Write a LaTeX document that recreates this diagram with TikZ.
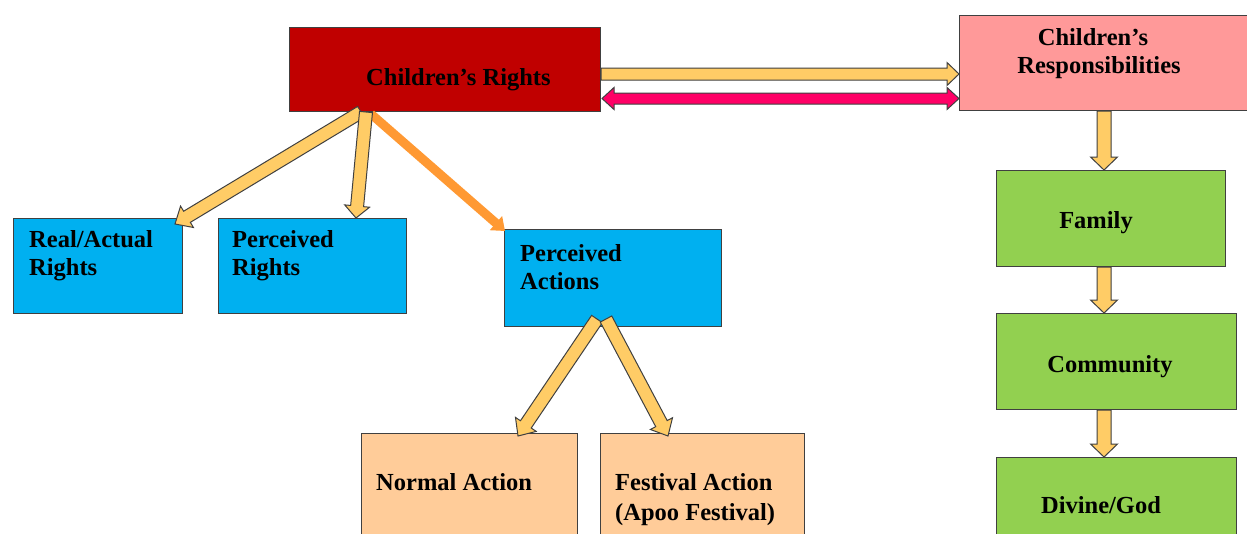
\documentclass[tikz,border=0pt]{standalone}
\usepackage{fontspec}
\setmainfont{Liberation Serif}
\usetikzlibrary{calc,arrows.meta}
\definecolor{crred}{HTML}{C00000}
\definecolor{resppink}{HTML}{FF9999}
\definecolor{blueb}{HTML}{00B0F0}
\definecolor{peach}{HTML}{FFCC99}
\definecolor{greenb}{HTML}{92D050}
\definecolor{arrowyellow}{HTML}{FFCC66}
\definecolor{orangeline}{HTML}{FF9933}
\definecolor{magentaarrow}{HTML}{FF0066}
\definecolor{boxline}{HTML}{404040}
\tikzset{
  box/.style={draw=boxline, line width=1pt, anchor=north west, inner sep=0pt},
  lbl/.style={font=\bfseries\fontsize{24.5}{28}\selectfont, text=black, inner sep=0pt},
  yarrow/.style={fill=arrowyellow, draw=boxline, line width=1pt, line join=miter},
  marrow/.style={fill=magentaarrow, draw=boxline, line width=1pt, line join=miter}
}
% #1 style, #2 from, #3 to, #4 shaft half width, #5 head half width, #6 head length
\newcommand\blkarrow[6]{%
  \coordinate (hb) at ($(#3)!#6!(#2)$);
  \filldraw[#1] ($(#2)!#4!90:(#3)$) -- ($(hb)!#4!90:(#3)$) -- ($(hb)!#5!90:(#3)$) -- (#3)
    -- ($(hb)!#5!-90:(#3)$) -- ($(hb)!#4!-90:(#3)$) -- ($(#2)!#4!-90:(#3)$) -- cycle;
}
\newcommand\dblkarrow[6]{%
  \coordinate (ha) at ($(#2)!#6!(#3)$);
  \coordinate (hb) at ($(#3)!#6!(#2)$);
  \filldraw[#1] ($(ha)!#4!90:(#3)$) -- ($(hb)!#4!90:(#3)$) -- ($(hb)!#5!90:(#3)$) -- (#3)
    -- ($(hb)!#5!-90:(#3)$) -- ($(hb)!#4!-90:(#3)$) -- ($(ha)!#4!-90:(#3)$)
    -- ($(ha)!#5!-90:(#3)$) -- (#2) -- ($(ha)!#5!90:(#3)$) -- cycle;
}
\begin{document}
\begin{tikzpicture}[x=1pt,y=-1pt]
\useasboundingbox (0,0) rectangle (1247,533);
\clip (0,0) rectangle (1247,533);
\fill[white] (0,0) rectangle (1247,533);
% boxes
\node[box,fill=crred,minimum width=311pt,minimum height=84pt] (cr) at (289,27) {};
\node[box,fill=resppink,minimum width=291pt,minimum height=95pt] (resp) at (959,15) {};
\node[box,fill=blueb,minimum width=169pt,minimum height=95pt] (rar) at (13,218) {};
\node[box,fill=blueb,minimum width=188pt,minimum height=95pt] (pr) at (218,218) {};
\node[box,fill=blueb,minimum width=217pt,minimum height=97pt] (pa) at (504,229) {};
\node[box,fill=peach,minimum width=216pt,minimum height=130pt] (na) at (361,433) {};
\node[box,fill=peach,minimum width=204pt,minimum height=130pt] (fa) at (600,433) {};
\node[box,fill=greenb,minimum width=229pt,minimum height=96pt] (fam) at (996,170) {};
\node[box,fill=greenb,minimum width=240pt,minimum height=96pt] (com) at (996,313) {};
\node[box,fill=greenb,minimum width=240pt,minimum height=110pt] (div) at (996,457) {};
% texts
\node[lbl,anchor=base west] (tcr) at ($(cr.north west)+(77,58)$) {Children’s Rights};
\node[lbl,anchor=north,align=center] (tresp) at ($(resp.north west)+(140,13)$) {\hspace*{-12pt}Children’s\\Responsibilities};
\node[lbl,anchor=north west,align=left] (trar) at ($(rar.north west)+(16,12)$) {Real/Actual\\Rights};
\node[lbl,anchor=north west,align=left] (tpr) at ($(pr.north west)+(14,12)$) {Perceived\\Rights};
\node[lbl,anchor=north west,align=left] (tpa) at ($(pa.north west)+(16,15)$) {Perceived\\Actions};
\node[lbl,anchor=base west] (tna) at ($(na.north west)+(15,57)$) {Normal Action};
\node[lbl,anchor=north west,align=left] (tfa) at ($(fa.north west)+(15,40)$) {Festival Action\\[2pt](Apoo Festival)};
\node[lbl,anchor=base] (tfam) at ($(fam.north west)+(100,58)$) {Family};
\node[lbl,anchor=base] (tcom) at ($(com.north west)+(114,59)$) {Community};
\node[lbl,anchor=base] (tdiv) at ($(div.north west)+(105,56)$) {Divine/God};
% connector coordinates
\coordinate (a1) at ($(cr.north east)+(0,47)$);
\coordinate (b1) at (a1 -| resp.west);
\coordinate (a2) at ($(cr.north east)+(1,71.5)$);
\coordinate (b2) at (a2 -| resp.west);
\coordinate (d1a) at ($(cr.south west)+(72,0)$);
\coordinate (d1b) at ($(rar.north east)+(-8,6)$);
\coordinate (d2a) at ($(cr.south west)+(77,0)$);
\coordinate (d2b) at ($(pr.north west)+(138,0)$);
\coordinate (oa) at ($(cr.south west)+(82,2)$);
\coordinate (ob) at ($(pa.north west)+(1,2)$);
\coordinate (d4a) at ($(pa.south west)+(93,-8)$);
\coordinate (d4b) at ($(na.north west)+(157,3)$);
\coordinate (d5a) at ($(pa.south west)+(102,-8)$);
\coordinate (d5b) at ($(fa.north west)+(68,3)$);
\coordinate (r1) at ($(resp.south west)+(145,0)$);
\coordinate (r2) at (r1 |- fam.north);
\coordinate (r3) at (r1 |- fam.south);
\coordinate (r4) at (r1 |- com.north);
\coordinate (r5) at (r1 |- com.south);
\coordinate (r6) at (r1 |- div.north);
% connectors
\draw[orangeline, line width=9pt, -{Triangle[width=18pt,length=12pt]}] (oa) -- (ob);
\blkarrow{yarrow}{d1a}{d1b}{6.5pt}{12.5pt}{14pt}
\blkarrow{yarrow}{d2a}{d2b}{6.5pt}{12.5pt}{12pt}
\blkarrow{yarrow}{d4a}{d4b}{6.5pt}{12.5pt}{14pt}
\blkarrow{yarrow}{d5a}{d5b}{6.5pt}{12.5pt}{14pt}
\blkarrow{yarrow}{a1}{b1}{6pt}{11.5pt}{12pt}
\dblkarrow{marrow}{a2}{b2}{5.5pt}{11pt}{12pt}
\blkarrow{yarrow}{r1}{r2}{7pt}{13.5pt}{13pt}
\blkarrow{yarrow}{r3}{r4}{7pt}{13.5pt}{13pt}
\blkarrow{yarrow}{r5}{r6}{7pt}{13.5pt}{13pt}
\end{tikzpicture}
\end{document}
